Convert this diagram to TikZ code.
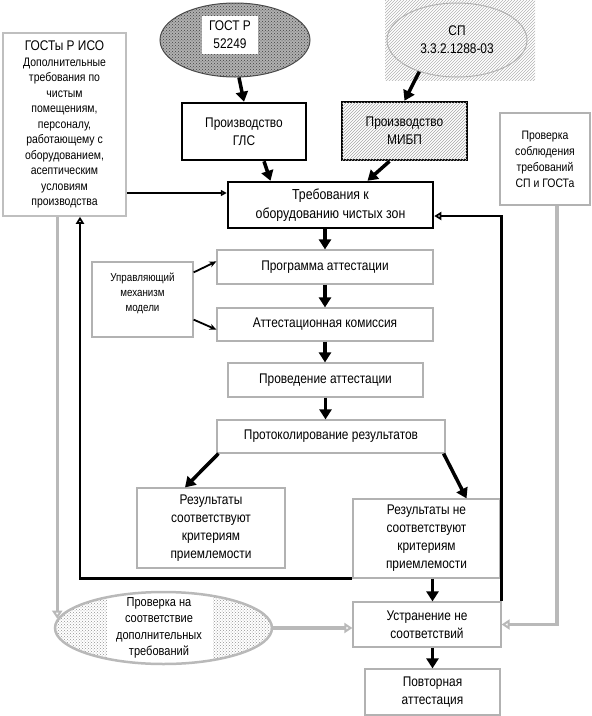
\documentclass[tikz,border=0pt]{standalone}
\usepackage{fontspec}
\setmainfont{Liberation Sans}[FakeStretch=0.85]
\usetikzlibrary{arrows.meta,shapes.geometric,patterns}
\begin{document}
\begin{tikzpicture}[x=1pt,y=-1pt,
  box/.style={draw=gray!60,line width=1.2pt,fill=white,align=center,inner sep=0pt,
    font=\fontsize{14}{18}\selectfont},
  boldbox/.style={box,draw=black,line width=2.5pt},
  flow/.style={line width=3.5pt,-{Triangle[length=10pt,width=12pt]}},
  slim/.style={line width=1.8pt,-{Stealth[length=7pt,width=6pt]}},
  loopline/.style={line width=2.8pt,-{Triangle[open,length=7pt,width=8pt]}},
  grayline/.style={draw=gray!55,line width=3.2pt,-{Triangle[open,length=8pt,width=10pt]}}]
\useasboundingbox (0,0) rectangle (592,716);
% sources
\node[box,draw=gray!50,line width=1.5pt,minimum width=123,minimum height=183,
  font=\fontsize{12.3}{15.5}\selectfont] (gostiso) at (64.5,124.5)
  {{\fontsize{14}{16}\selectfont ГОСТы Р ИСО}\\Дополнительные\\требования по\\чистым\\помещениям,\\персоналу,\\работающему с\\оборудованием,\\асептическим\\условиям\\производства};
\node[ellipse,draw=black!70,line width=1pt,fill=gray!62,
  postaction={pattern=crosshatch dots,pattern color=black!75},
  minimum width=150,minimum height=74,inner sep=0pt] (gostr) at (235,40) {};
\node[fill=white,align=center,inner sep=0pt,minimum width=56,minimum height=38,
  font=\fontsize{14}{18}\selectfont] (gostrtext) at (230,35) {ГОСТ Р\\52249};
\fill[pattern=north east lines,pattern color=gray!60] (385,0) rectangle (535,80);
\node[ellipse,draw=gray!60,line width=1pt,minimum width=140,minimum height=74,
  inner sep=0pt,align=center,font=\fontsize{14}{18}\selectfont] (sp) at (457,40)
  {СП\\3.3.2.1288-03};
\node[boldbox,minimum width=124,minimum height=57] (gls) at (244,131.5) {Производство\\ГЛС};
\node[boldbox,minimum width=125,minimum height=58,
  postaction={pattern=north east lines,pattern color=gray!70}] (mibp) at (404.5,131)
  {Производство\\МИБП};
\node[boldbox,minimum width=205,minimum height=46,font=\fontsize{14.5}{19}\selectfont]
  (treb) at (330.5,205) {Требования к\\оборудованию чистых зон};
\node[box,line width=2pt,minimum width=90,minimum height=92,
  font=\fontsize{12.3}{16}\selectfont] (check) at (545,159)
  {Проверка\\соблюдения\\требований\\СП и ГОСТа};
% main chain
\node[box,minimum width=216,minimum height=34] (prog) at (325,267) {Программа аттестации};
\node[box,minimum width=101,minimum height=75,font=\fontsize{11.5}{15}\selectfont]
  (upr) at (142.5,299.5) {Управляющий\\механизм\\модели\\\mbox{}};
\node[box,minimum width=216,minimum height=33] (kom) at (325,324.5) {Аттестационная комиссия};
\node[box,minimum width=195,minimum height=34] (prov) at (325.5,380) {Проведение аттестации};
\node[box,minimum width=228,minimum height=33] (protok) at (331,436.5) {Протоколирование результатов};
\node[box,minimum width=148,minimum height=80] (rs) at (211,528)
  {Результаты\\соответствуют\\критериям\\приемлемости};
\node[box,minimum width=147,minimum height=79] (rne) at (426.5,538.5)
  {Результаты не\\соответствуют\\критериям\\приемлемости};
\node[box,minimum width=148,minimum height=45] (ustr) at (427,624.5) {Устранение не\\соответствий};
\node[box,minimum width=135,minimum height=46] (povt) at (432.5,692) {Повторная\\аттестация};
\node[ellipse,draw=gray!55,line width=2.5pt,preaction={fill=white},
  pattern=crosshatch dots,pattern color=gray!85,
  path picture={\fill[white] ([xshift=-57pt]path picture bounding box.south)
    rectangle ([xshift=49pt]path picture bounding box.north);},
  minimum width=217,minimum height=72,inner sep=0pt] (dop) at (163.5,628) {};
\node[align=center,inner sep=0pt,font=\fontsize{13}{16.5}\selectfont] (doptext)
  at (159,628) {Проверка на\\соответствие\\дополнительных\\требований};
% arrows
\draw[flow] (gostr.-84) -- (gls.north);
\draw[flow] (sp.-140) -- (mibp.north);
\draw[flow] ([xshift=20pt]gls.south) -- ([xshift=-60pt]treb.north);
\draw[flow] ([xshift=-15pt]mibp.south) -- ([xshift=37pt]treb.north);
\coordinate (tin) at ([yshift=12pt]treb.west);
\draw[line width=1.5pt,-{Triangle[open,length=6pt,width=6pt]}] (gostiso.east |- tin) -- (tin);
\draw[flow] (prog.north |- treb.south) -- (prog.north);
\draw[flow] (prog.south) -- (kom.north);
\draw[flow] (kom.south) -- (kom.south |- prov.north);
\draw[flow] (prov.south) -- (prov.south |- protok.north);
\draw[slim] ([yshift=-11pt]upr.north east) -- ([yshift=-12pt]prog.north west);
\draw[slim] ([yshift=18pt]upr.south east) -- ([yshift=12pt]kom.south west);
\draw[flow] ([xshift=2pt]protok.south west) -- ([xshift=-26pt]rs.north);
\draw[flow] ([xshift=-2pt]protok.south east) -- ([xshift=40pt]rne.north);
\draw[flow] ([xshift=6pt]rne.south) -- ([xshift=6pt]rne.south |- ustr.north);
\draw[flow] (povt.north |- ustr.south) -- (povt.north);
\draw[loopline] (ustr.north east) |- ([yshift=-11pt]treb.east);
\draw[loopline] (rne.south west) -| ([xshift=15.5pt]gostiso.south);
\draw[grayline] (gostiso.south -| dop.175) -- (dop.175);
\draw[grayline] (dop.east) -- (dop.east -| ustr.west);
\draw[grayline] ([xshift=12pt]check.south) |- (ustr.east);
\end{tikzpicture}
\end{document}
